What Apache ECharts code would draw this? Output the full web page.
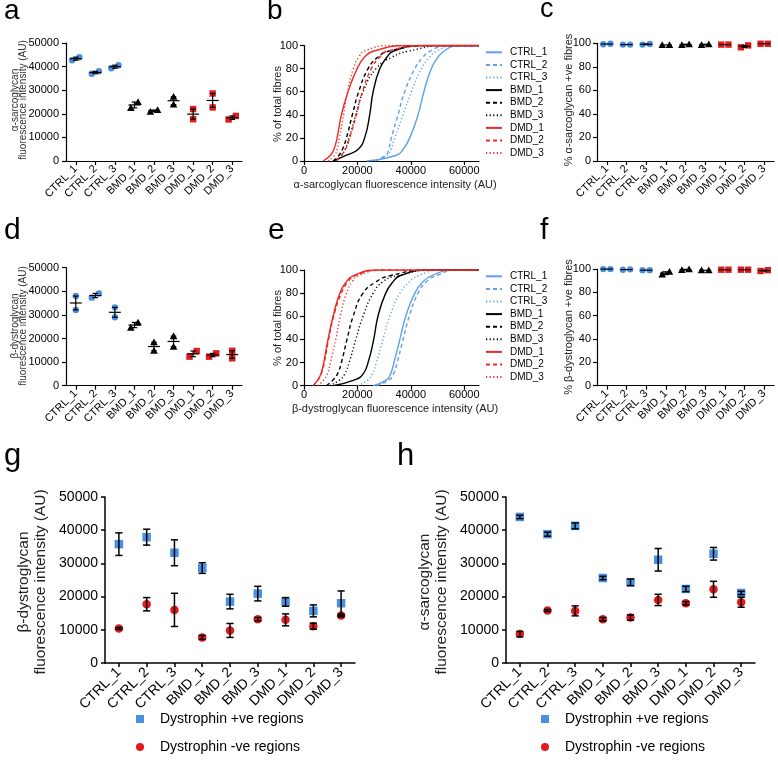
<!DOCTYPE html>
<html><head><meta charset="utf-8">
<script src="https://cdn.jsdelivr.net/npm/echarts@6/dist/echarts.min.js"></script>
<style>html,body{margin:0;padding:0;background:#fff}#c{width:778px;height:773px}</style>
</head><body><div id="c"></div>
<script>
// ---------- DATA ----------
const categories = ['CTRL_1','CTRL_2','CTRL_3','BMD_1','BMD_2','BMD_3','DMD_1','DMD_2','DMD_3'];

// a: alpha-sarcoglycan fluorescence intensity (AU), two measurements per sample
const aRep1 = [42700, 37000, 39300, 22500, 20900, 27200, 22000, 28600, 17600];
const aRep2 = [44000, 38000, 40600, 25000, 21600, 23900, 17700, 22700, 19100];
// c: % alpha-sarcoglycan +ve fibres
const cRep1 = [99.2, 98.9, 98.9, 98.6, 98.6, 98.6, 98.9, 96.6, 99.6];
const cRep2 = [99.6, 98.9, 99.4, 98.6, 99.2, 99.2, 98.9, 98.2, 99.6];
// d: beta-dystroglycan fluorescence intensity (AU)
const dRep1 = [38000, 37300, 33200, 24600, 18400, 21000, 12300, 12300, 14800];
const dRep2 = [32100, 39100, 29000, 26800, 14800, 16500, 14700, 13700, 11600];
// f: % beta-dystroglycan +ve fibres
const fRep1 = [99.9, 99.3, 99.0, 95.2, 99.2, 98.9, 99.4, 99.4, 98.3];
const fRep2 = [99.9, 99.7, 99.0, 97.6, 99.7, 98.9, 99.4, 99.4, 99.0];

// b / e: cumulative distributions (% of total fibres) -> intensity at each level
const curveNames = ['CTRL_1','CTRL_2','CTRL_3','BMD_1','BMD_2','BMD_3','DMD_1','DMD_2','DMD_3'];
const pctLevels = [0, 5, 10, 20, 40, 60, 80, 90, 95, 100];
const intensityMax = 65535;
const bCTRL1 = [23400, 34600, 37100, 39600, 42700, 44900, 47700, 50200, 52400, 57100];
const bCTRL2 = [26500, 30600, 31700, 32700, 35200, 37700, 41500, 44600, 47100, 53400];
const bCTRL3 = [27500, 31100, 32500, 34000, 37100, 40200, 44000, 47100, 49600, 55900];
const bBMD1  = [10900, 15900, 20200, 22700, 24600, 25900, 28400, 31100, 33400, 43400];
const bBMD2  = [10900, 13100, 14400, 15900, 18100, 20500, 24000, 27700, 31500, 47000];
const bBMD3  = [12100, 14000, 15400, 16900, 19400, 22100, 27000, 33000, 39000, 53000];
const bDMD1  = [7100, 9900, 11200, 12400, 14000, 16500, 19900, 22700, 25900, 38400];
const bDMD2  = [12100, 14000, 15500, 17100, 19600, 21900, 25200, 28400, 31100, 45900];
const bDMD3  = [9000, 11500, 12400, 13300, 14800, 16300, 18500, 20500, 22500, 32000];

const eCTRL1 = [25900, 30900, 32400, 33700, 35900, 38100, 41500, 44600, 47700, 55900];
const eCTRL2 = [27100, 31900, 33500, 34900, 37100, 39400, 42700, 45900, 49600, 57100];
const eCTRL3 = [20200, 24000, 25600, 27100, 29600, 32100, 35900, 39600, 42700, 50900];
const eBMD1  = [10900, 19000, 22100, 24000, 26100, 27700, 30600, 33400, 35900, 45900];
const eBMD2  = [8400, 10900, 12500, 14000, 16100, 18400, 22100, 27100, 32100, 45900];
const eBMD3  = [9600, 13400, 15200, 16900, 19400, 22100, 25900, 29600, 34600, 48400];
const eDMD1  = [3400, 5200, 6300, 7400, 9000, 10900, 13400, 15900, 18400, 27100];
const eDMD2  = [3400, 5200, 6400, 7600, 9200, 11100, 14000, 16600, 19000, 28500];
const eDMD3  = [5200, 7400, 8700, 9900, 11900, 13600, 15900, 18100, 20200, 29600];

// g: beta-dystroglycan, dystrophin +ve / -ve regions (mean, error)
const gPosMean = [35800, 37900, 33200, 28600, 18500, 20900, 18400, 15700, 18000];
const gPosErr  = [3400, 2400, 3900, 1600, 2200, 2200, 1300, 1800, 3700];
const gNegMean = [10400, 17700, 16000, 7700, 9800, 13200, 13000, 11100, 14300];
const gNegErr  = [300, 2000, 5000, 600, 2100, 500, 1800, 900, 400];
// h: alpha-sarcoglycan
const hPosMean = [44000, 38800, 41300, 25600, 24300, 31100, 22300, 32900, 21100];
const hPosErr  = [500, 600, 900, 500, 1000, 3400, 800, 1900, 500];
const hNegMean = [8700, 15800, 15700, 13200, 13700, 19000, 18000, 22200, 18300];
const hNegErr  = [800, 300, 1500, 500, 800, 1700, 500, 2400, 1500];

const intensityTicks = [0, 10000, 20000, 30000, 40000, 50000];
const percentTicks = [0, 20, 40, 60, 80, 100];
const cdfXTicks = [0, 20000, 40000, 60000];

// ---------- STYLE ----------
const FONT = '"Liberation Sans", Arial, Helvetica, sans-serif';
const BLUE = '#4a90e2', RED = '#e3191c', BLACK = '#000000';
const LBLUE = '#5ea1e8', LRED = '#ee2a25';
const plain = v => String(v);

function marker(shape, cx, cy, color) {
  if (shape === 'circle') return {type:'circle', shape:{cx, cy, r:3.2}, style:{fill:color}};
  if (shape === 'square') return {type:'rect', shape:{x:cx-3.2, y:cy-3.2, width:6.4, height:6.4}, style:{fill:color}};
  return {type:'polygon', shape:{points:[[cx, cy-3.8],[cx+3.8, cy+3],[cx-3.8, cy+3]]}, style:{fill:color}};
}
function dotRender(params, api) {
  const i = api.value(0), v1 = api.value(1), v2 = api.value(2);
  const grp = categories[i].split('_')[0];
  const color = grp === 'CTRL' ? BLUE : (grp === 'DMD' ? RED : BLACK);
  const shape = grp === 'CTRL' ? 'circle' : (grp === 'DMD' ? 'square' : 'tri');
  const mean = (v1 + v2) / 2, sem = Math.abs(v1 - v2) / 2;
  const p1 = api.coord([i, v1]), p2 = api.coord([i, v2]), pm = api.coord([i, mean]);
  const pt = api.coord([i, mean + sem]), pb = api.coord([i, mean - sem]);
  const dx = Math.abs(p1[1] - p2[1]) < 6 ? 3.6 : 0;
  const ls = {stroke:'#000', lineWidth:1.2};
  const ch = [marker(shape, p1[0]-dx, p1[1], color), marker(shape, p2[0]+dx, p2[1], color)];
  ch.push({type:'line', shape:{x1:pm[0]-6, y1:pm[1], x2:pm[0]+6, y2:pm[1]}, style:ls});
  if (Math.abs(pt[1]-pb[1]) > 0.5) {
    ch.push({type:'line', shape:{x1:pm[0], y1:pt[1], x2:pm[0], y2:pb[1]}, style:ls});
    ch.push({type:'line', shape:{x1:pm[0]-2.8, y1:pt[1], x2:pm[0]+2.8, y2:pt[1]}, style:ls});
    ch.push({type:'line', shape:{x1:pm[0]-2.8, y1:pb[1], x2:pm[0]+2.8, y2:pb[1]}, style:ls});
  }
  return {type:'group', children:ch};
}
function errRender(params, api) {
  const i = api.value(0), m = api.value(1), e = api.value(2);
  const t = api.coord([i, m + e]), b = api.coord([i, m - e]);
  const ls = {stroke:'#000', lineWidth:1.5};
  return {type:'group', children:[
    {type:'line', shape:{x1:t[0], y1:t[1], x2:b[0], y2:b[1]}, style:ls},
    {type:'line', shape:{x1:t[0]-3.6, y1:t[1], x2:t[0]+3.6, y2:t[1]}, style:ls},
    {type:'line', shape:{x1:b[0]-3.6, y1:b[1], x2:b[0]+3.6, y2:b[1]}, style:ls}
  ]};
}

const grids = [
  {left:66, top:43, width:176, height:118},      // a
  {left:304, top:45.5, width:175, height:115.5}, // b
  {left:597, top:43.3, width:177, height:117.7}, // c
  {left:66, top:267.7, width:176, height:118},   // d
  {left:304, top:270, width:175, height:115.7},  // e
  {left:597, top:269, width:177, height:116.7},  // f
  {left:105, top:497, width:250, height:166},    // g
  {left:506, top:497, width:249, height:166}     // h
];
function axLine(w){ return {show:true, lineStyle:{color:'#000', width:w}}; }
function catX(gi, fs, w, margin) {
  return {gridIndex:gi, type:'category', data:categories,
    axisLine:axLine(w), axisTick:{show:true, alignWithLabel:true, length:4, lineStyle:{color:'#000', width:w}},
    axisLabel:{rotate:45, fontSize:fs, color:'#000', margin:margin, interval:0, fontFamily:FONT},
    splitLine:{show:false}};
}
function valY(gi, ticks, fs, w, margin) {
  return {gridIndex:gi, type:'value', min:ticks[0], max:ticks[ticks.length-1], interval:ticks[1]-ticks[0],
    axisLine:axLine(w), axisTick:{show:true, length:4, lineStyle:{color:'#000', width:w}},
    axisLabel:{fontSize:fs, color:'#000', margin:margin, fontFamily:FONT, formatter:plain}, splitLine:{show:false}};
}
function valX(gi) {
  return {gridIndex:gi, type:'value', min:0, max:intensityMax,
    axisLine:axLine(1.2), axisTick:{show:true, length:4, customValues:cdfXTicks, lineStyle:{color:'#000', width:1.2}},
    axisLabel:{fontSize:11, color:'#000', margin:4, customValues:cdfXTicks, fontFamily:FONT, formatter:plain}, splitLine:{show:false}};
}

const series = [];
function dotSeries(gi, r1, r2) {
  series.push({type:'custom', xAxisIndex:gi, yAxisIndex:gi, renderItem:dotRender,
    encode:{x:0, y:[1,2]}, data:categories.map((c,i)=>[i, r1[i], r2[i]]), z:3});
}
dotSeries(0, aRep1, aRep2);
dotSeries(2, cRep1, cRep2);
dotSeries(3, dRep1, dRep2);
dotSeries(5, fRep1, fRep2);

const curveStyle = [
  [LBLUE,'solid'],[LBLUE,[4,3]],[LBLUE,[1.2,2.4]],
  [BLACK,'solid'],[BLACK,[4,3]],[BLACK,[1.2,2.4]],
  [LRED,'solid'],[LRED,[4,3]],[LRED,[1.2,2.4]]
];
function cdfSeries(gi, curves) {
  curves.forEach((cv, k) => {
    const data = cv.map((x, j) => [x, pctLevels[j]]);
    data.push([intensityMax, 100]);
    series.push({type:'line', name:curveNames[k], xAxisIndex:gi, yAxisIndex:gi, data,
      symbol:'none', smooth:0.5, color:curveStyle[k][0],
      lineStyle:{color:curveStyle[k][0], width:1.4, type:curveStyle[k][1]}, z:2});
  });
}
cdfSeries(1, [bCTRL1,bCTRL2,bCTRL3,bBMD1,bBMD2,bBMD3,bDMD1,bDMD2,bDMD3]);
cdfSeries(4, [eCTRL1,eCTRL2,eCTRL3,eBMD1,eBMD2,eBMD3,eDMD1,eDMD2,eDMD3]);

const POS = 'Dystrophin +ve regions', NEG = 'Dystrophin -ve regions';
function regionSeries(gi, pm, pe, nm, ne) {
  series.push({type:'scatter', name:POS, xAxisIndex:gi, yAxisIndex:gi, data:pm, symbol:'rect', symbolSize:8.5, itemStyle:{color:BLUE, opacity:1}, z:2});
  series.push({type:'scatter', name:NEG, xAxisIndex:gi, yAxisIndex:gi, data:nm, symbol:'circle', symbolSize:8.5, itemStyle:{color:RED, opacity:1}, z:2});
  const ed = categories.map((c,i)=>[i, pm[i], pe[i]]).concat(categories.map((c,i)=>[i, nm[i], ne[i]]));
  series.push({type:'custom', xAxisIndex:gi, yAxisIndex:gi, renderItem:errRender, encode:{x:0, y:1}, data:ed, z:3});
}
regionSeries(6, gPosMean, gPosErr, gNegMean, gNegErr);
regionSeries(7, hPosMean, hPosErr, hNegMean, hNegErr);

function vText(x, y, text, fs, lh, color) {
  return {type:'text', x, y, rotation:Math.PI/2, silent:true,
    style:{text, fontSize:fs, lineHeight:lh, fontFamily:FONT, fill:color||'#222', align:'center', verticalAlign:'middle'}};
}
function hText(x, y, text, fs, color) {
  return {type:'text', x, y, silent:true,
    style:{text, fontSize:fs, fontFamily:FONT, fill:color||'#222', align:'center', verticalAlign:'middle'}};
}
function letter(x, y, t, fs) {
  return {type:'text', x, y, silent:true, style:{text:t, fontSize:fs, fontFamily:FONT, fill:'#000', align:'left', verticalAlign:'middle'}};
}

const graphic = [
  letter(4, 11, 'a', 28), letter(267, 11, 'b', 28), letter(540, 10, 'c', 27),
  letter(4, 231, 'd', 30), letter(268, 231, 'e', 30), letter(540, 231, 'f', 30),
  letter(4, 456, 'g', 31), letter(397, 456, 'h', 31),
  vText(19, 100, 'α-sarcoglycan\nfluorescence intensity (AU)', 10, 8.5, '#333'),
  vText(19, 326, 'β-dystroglycan\nfluorescence intensity (AU)', 10, 8.5, '#333'),
  vText(569, 100, '% α-sarcoglycan +ve fibres', 11, 11, '#222'),
  vText(569, 327, '% β-dystroglycan +ve fibres', 11, 11, '#222'),
  vText(278, 104, '% of total fibres', 11, 11, '#222'),
  vText(278, 328, '% of total fibres', 11, 11, '#222'),
  hText(395, 185, 'α-sarcoglycan fluorescence intensity (AU)', 11, '#222'),
  hText(395, 409, 'β-dystroglycan fluorescence intensity (AU)', 11, '#222'),
  vText(32, 582, 'β-dystroglycan\nfluorescence intensity (AU)', 15.5, 17, '#222'),
  vText(433, 582, 'α-sarcoglycan\nfluorescence intensity (AU)', 15.5, 17, '#222')
];

function cdfLegend(top) {
  return {left:485, top, orient:'vertical', itemWidth:16, itemHeight:10, itemGap:2.6, padding:0,
    selectedMode:false, data:curveNames, itemStyle:{opacity:0},
    textStyle:{fontSize:10, lineHeight:10, color:'#000', fontFamily:FONT, padding:[0,0,0,3]}};
}
function regionLegend(left) {
  return {left, top:712, orient:'vertical', itemWidth:8, itemHeight:8, itemGap:14, padding:0, selectedMode:false,
    data:[{name:POS, icon:'rect'}, {name:NEG, icon:'circle'}],
    textStyle:{fontSize:14, lineHeight:14, color:'#000', fontFamily:FONT, padding:[0,0,0,11]}};
}

const option = {
  animation:false,
  backgroundColor:'#fff',
  textStyle:{fontFamily:FONT},
  grid:grids,
  xAxis:[catX(0,11,1.2,6), valX(1), catX(2,11,1.2,6), catX(3,11,1.2,6), valX(4), catX(5,11,1.2,6), catX(6,14,1.5,7), catX(7,14,1.5,7)],
  yAxis:[valY(0,intensityTicks,11,1.2,7), valY(1,percentTicks,11,1.2,6), valY(2,percentTicks,11,1.2,6),
         valY(3,intensityTicks,11,1.2,7), valY(4,percentTicks,11,1.2,6), valY(5,percentTicks,11,1.2,6),
         valY(6,intensityTicks,14,1.5,7), valY(7,intensityTicks,14,1.5,7)],
  legend:[cdfLegend(47.3), cdfLegend(271.3), regionLegend(136), regionLegend(541)],
  series,
  graphic
};
const chart = echarts.init(document.getElementById('c'), null, {renderer:'canvas'});
chart.setOption(option);
</script></body></html>
